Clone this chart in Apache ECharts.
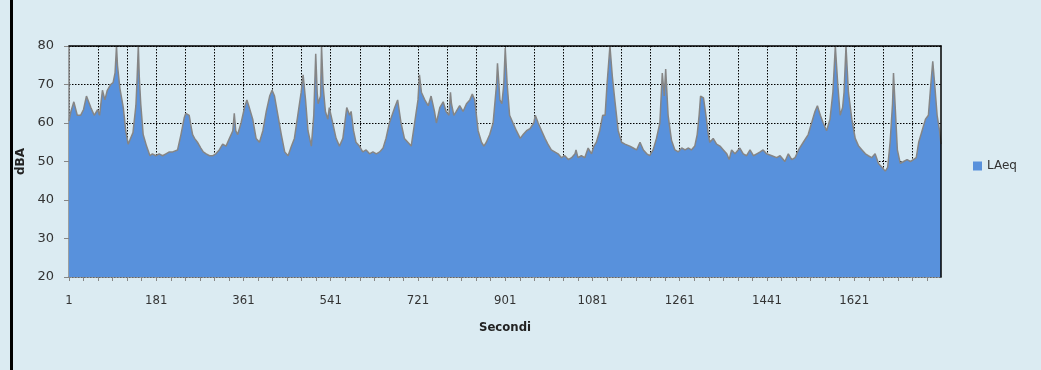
<!DOCTYPE html>
<html>
<head>
<meta charset="utf-8">
<script src="https://cdn.jsdelivr.net/npm/echarts@6/dist/echarts.min.js"></script>
<style>
html,body{margin:0;padding:0;background:#dbebf2;}
#chart{width:1041px;height:370px;}
</style>
</head>
<body>
<div id="chart"></div>
<script>
// Sample points: time (seconds) and LAeq level (dBA)
const sampleSeconds = [1,5,11,18,25,31,37,46,53,60,64,70,75,80,87,92,96,99,101,106,113,118,123,127,133,139,141,144,146,149,154,161,168,173,180,187,194,201,208,215,225,232,239,242,246,249,253,256,260,266,273,278,284,291,298,304,311,318,325,332,339,342,345,349,356,363,368,373,380,387,394,401,408,415,420,425,432,439,446,453,460,466,473,480,484,489,494,501,506,510,513,515,520,522,525,530,535,538,545,552,559,566,573,574,580,583,588,593,600,607,614,621,628,635,642,649,655,662,673,679,686,693,700,707,714,721,724,728,735,742,748,755,759,766,773,779,785,788,790,795,800,807,814,821,828,833,838,845,852,857,862,869,876,883,885,888,890,894,898,901,905,910,917,924,932,938,945,952,960,963,969,976,983,989,996,1003,1010,1017,1024,1031,1038,1045,1047,1051,1058,1065,1072,1079,1084,1089,1096,1102,1107,1111,1117,1122,1127,1134,1141,1148,1158,1165,1172,1179,1186,1193,1199,1206,1213,1220,1225,1229,1232,1237,1244,1251,1258,1265,1272,1279,1285,1292,1297,1301,1304,1310,1315,1320,1323,1330,1337,1344,1351,1358,1363,1368,1375,1385,1392,1399,1406,1413,1420,1427,1433,1440,1451,1461,1468,1478,1485,1492,1499,1506,1516,1526,1533,1540,1545,1551,1557,1564,1571,1577,1582,1587,1592,1597,1600,1604,1609,1616,1623,1630,1637,1644,1650,1657,1664,1671,1678,1685,1690,1695,1700,1702,1706,1710,1716,1723,1730,1737,1743,1749,1754,1761,1768,1774,1779,1783,1787,1792,1797,1800];
const laeq = [60.5,63,65.5,62,62,63.5,67,64,62,63.5,62,68.5,66,68.5,70,70.5,73,80,75,69,64,58,54.5,54,57.5,64.5,70,80,72,65,57,54,51.5,52,51.5,52,51.5,52,52.5,52.5,53,57,61.5,62.5,62,62,59,57,56,55,53.5,52.5,52,51.5,51.5,52,53,54.5,54,56,58,62.5,58,57,60,64,66,64,61,56,55,58,63,67,68.5,67,62,57,52.5,51.5,54,56,62,68,72.5,66,58,54,62,78,68,65,67,80,70,63,61,64,60,56,54,56,63,64,62,63,58,55,54,52.5,53,52,52.5,52,52.5,53.5,56,60,64,66,60,56,55,54,60,66,72.5,68,66,64.5,67,63,60,64,65.5,63,62,68,65,62,63,64.5,63,65,66,67.5,66,58,55,54,55,57,60,70,75.5,70,66,65,70,79.5,70,62,60,58,56,57,58,58.5,60,62,60,58,56,54.5,53,52.5,52,51,51.5,50.5,51,52,53,51,51.5,51,53.5,52,54,55,58,62,62,70,80,72,66,58,55,54.5,54,53.5,53,55,53,52,51.5,53,56,60,73,67,74,62,55.5,53,52.5,53.5,53,53.5,53,54,57,62,67,66.5,62,57,55,56,54.5,54,53,52,50.5,53,52,53.5,52,51.5,53,51.5,52,52.5,53,52,51.5,51,51.5,50,52,50.5,51,53,55,57,60,63,64.5,62,60,58,61,68,80,70,62,64,68,80,68,61,56,54,53,52,51.5,51,52,49.5,48.5,47.5,48.5,55,65,73,63,53,49.5,50,50.5,50,50.5,51,55,58,61,62,70,76,70,62,58,54.5];
const totalSeconds = 1800;
const categories = Array.from({length: totalSeconds}, (_, i) => String(i + 1));
const yTicks = {min: 20, max: 80, step: 10};
const seriesName = 'LAeq';
const xTitle = 'Secondi';
const yTitle = 'dBA';

const chart = echarts.init(document.getElementById('chart'), null, {renderer: 'canvas'});
const data = sampleSeconds.map((s, i) => [s - 1, laeq[i]]);
const narrow = 'Liberation Sans Narrow, DejaVu Sans Condensed, sans-serif';

chart.setOption({
  backgroundColor: '#dbebf2',
  animation: false,
  graphic: [
    {type: 'rect', shape: {x: 10, y: 0, width: 3, height: 370}, style: {fill: '#000'}, z: 100}
  ],
  grid: {left: 69, right: 100, top: 46, bottom: 93, outerBoundsMode: 'none', containLabel: false},
  legend: {
    data: [seriesName], orient: 'vertical', left: 968, top: 155,
    icon: 'rect', itemWidth: 9, itemHeight: 9, itemGap: 5,
    textStyle: {fontFamily: 'DejaVu Sans', fontSize: 12, color: '#333'},
    itemStyle: {borderWidth: 0}
  },
  xAxis: [{
    type: 'category', data: categories, boundaryGap: false,
    name: xTitle, nameLocation: 'middle', nameGap: 44,
    nameTextStyle: {fontFamily: narrow, fontWeight: 'bold', fontSize: 13, color: '#222'},
    axisLine: {lineStyle: {color: '#868686', width: 1.5}},
    axisTick: {show: true, interval: 29, length: 4, lineStyle: {color: '#868686'}},
    axisLabel: {interval: 179, margin: 17, fontFamily: narrow, fontSize: 13, color: '#333'},
    splitLine: {show: true, interval: 59, lineStyle: {color: '#000', type: [1.5, 1.5], width: 1}}
  }, {
    type: 'category', data: categories, boundaryGap: false, position: 'top',
    axisLine: {show: true, onZero: false, lineStyle: {color: '#000', width: 1.5}},
    axisTick: {show: false}, axisLabel: {show: false}, splitLine: {show: false},
    z: 3
  }],
  yAxis: [{
    type: 'value', min: yTicks.min, max: yTicks.max, interval: yTicks.step,
    name: yTitle, nameLocation: 'middle', nameGap: 37, nameRotate: 90,
    nameTextStyle: {fontFamily: 'DejaVu Sans', fontWeight: 'bold', fontSize: 12, color: '#222'},
    axisLine: {show: true, lineStyle: {color: '#868686', width: 1.5}},
    axisTick: {show: true, length: 5, lineStyle: {color: '#868686'}},
    axisLabel: {margin: 15, fontFamily: 'DejaVu Sans', fontSize: 13, color: '#333'},
    splitLine: {show: true, lineStyle: {color: '#000', type: [1.5, 1.5], width: 1}}
  }, {
    type: 'value', min: yTicks.min, max: yTicks.max, interval: yTicks.step, position: 'right',
    axisLine: {show: true, onZero: false, lineStyle: {color: '#000', width: 1.5}},
    axisTick: {show: false}, axisLabel: {show: false}, splitLine: {show: false},
    z: 3
  }],
  series: [{
    name: seriesName, type: 'line', data: data, xAxisIndex: 0, yAxisIndex: 0,
    showSymbol: false, symbol: 'none', sampling: 'none',
    color: '#5891dc',
    itemStyle: {color: '#5891dc'},
    lineStyle: {color: '#858585', width: 1.5},
    areaStyle: {color: '#5891dc', opacity: 1, origin: 'start'},
    z: 2
  }]
});
</script>
</body>
</html>
